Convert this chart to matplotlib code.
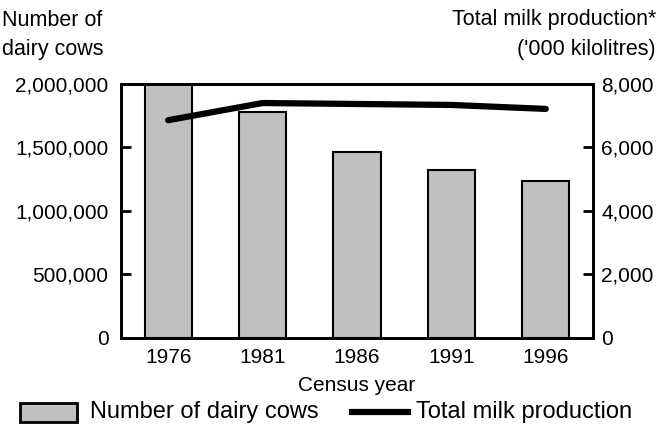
import matplotlib.pyplot as plt
import numpy as np
from matplotlib.ticker import FuncFormatter

plt.rcParams['font.family'] = ['Liberation Sans', 'DejaVu Sans']

years = ['1976', '1981', '1986', '1991', '1996']
cows = [2000000, 1780000, 1465000, 1323000, 1236000]
milk = [6860, 7400, 7370, 7340, 7215]

fig = plt.figure(figsize=(6.58, 4.32), dpi=100)
ax = fig.add_axes([0.1839, 0.2176, 0.7173, 0.588])
ax2 = ax.twinx()

x = np.arange(len(years))
ax.bar(x, cows, width=0.5, color='#c0c0c0', edgecolor='black', linewidth=1.5, zorder=2)
ax2.plot(x, milk, color='black', linewidth=4.5, solid_capstyle='round', zorder=3)

ax.set_xlim(-0.5, 4.5)
ax.set_ylim(0, 2000000)
ax2.set_ylim(0, 8000)
ax.set_yticks([0, 500000, 1000000, 1500000, 2000000])
ax2.set_yticks([0, 2000, 4000, 6000, 8000])
fmt = FuncFormatter(lambda v, p: '{:,.0f}'.format(v))
ax.yaxis.set_major_formatter(fmt)
ax2.yaxis.set_major_formatter(fmt)
ax.set_xticks(x)
ax.set_xticklabels(years)

fs = 15
ax.tick_params(axis='x', length=0, labelsize=fs, pad=7)
ax.tick_params(axis='y', direction='in', length=7, width=2, labelsize=fs, pad=9)
ax2.tick_params(axis='y', direction='in', length=7, width=2, labelsize=fs, pad=6)
for a in (ax, ax2):
    for s in a.spines.values():
        s.set_linewidth(2)

ax.set_xlabel('Census year', fontsize=fs, labelpad=7)

fig.text(0.003, 1 - 20 / 432, 'Number of', fontsize=15.5, va='center', ha='left')
fig.text(0.003, 1 - 50 / 432, 'dairy cows', fontsize=15.5, va='center', ha='left')
fig.text(0.997, 1 - 20 / 432, 'Total milk production*', fontsize=15.5, va='center', ha='right')
fig.text(0.997, 1 - 50 / 432, "('000 kilolitres)", fontsize=15.5, va='center', ha='right')

# legend along the bottom
fig.patches.append(plt.Rectangle((20 / 658, 1 - 422 / 432), 57 / 658, 19 / 432,
                                 transform=fig.transFigure, facecolor='#c0c0c0',
                                 edgecolor='black', linewidth=2))
fig.text(90 / 658, 1 - 412 / 432, 'Number of dairy cows', fontsize=17, va='center')
fig.lines.append(plt.Line2D([352 / 658, 408 / 658], [1 - 412 / 432, 1 - 412 / 432],
                            transform=fig.transFigure, color='black', linewidth=4.5))
fig.text(416 / 658, 1 - 412 / 432, 'Total milk production', fontsize=17, va='center')

fig.savefig('out.png', dpi=100)
